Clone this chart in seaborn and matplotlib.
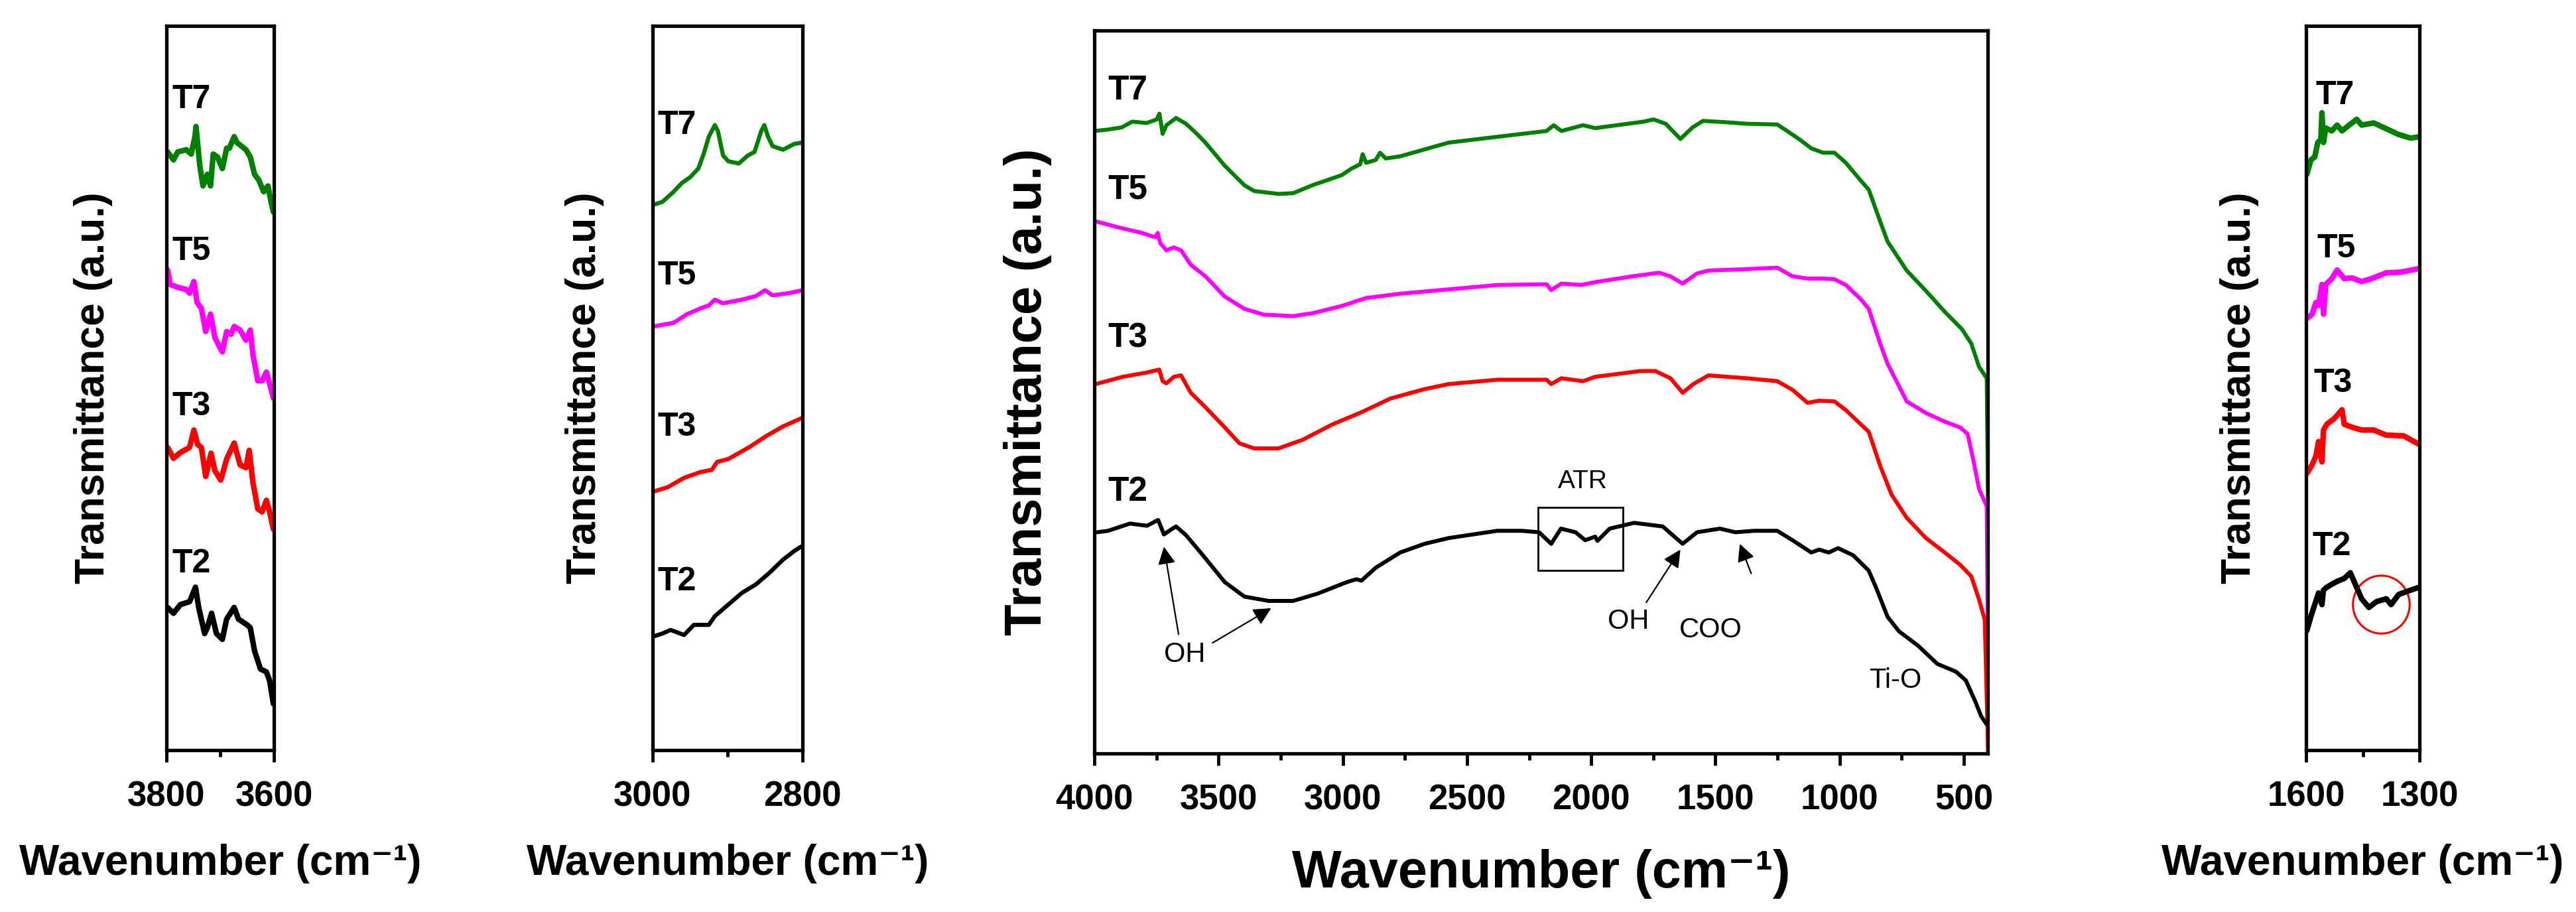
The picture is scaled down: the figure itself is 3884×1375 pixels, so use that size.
import matplotlib
matplotlib.use("Agg")
import matplotlib.pyplot as plt
import seaborn as sns
from matplotlib.patches import Rectangle, Ellipse

# ---- data (wavenumber, transmittance a.u. 0-100) ----
main_t7 = [(4000, 86.1), (3945, 86.3), (3890, 86.6), (3847, 87.4), (3790, 87.2), (3749, 87.7),
           (3738, 88.5), (3725, 85.7), (3710, 86.9), (3671, 87.9), (3631, 87.1), (3590, 85.8),
           (3553, 84.5), (3475, 81.3), (3396, 78.6), (3357, 77.8), (3259, 77.4), (3200, 77.5),
           (3122, 78.6), (3004, 80.0), (2965, 80.9), (2930, 81.5), (2920, 82.9), (2906, 81.7),
           (2867, 82.1), (2850, 83.1), (2827, 82.3), (2769, 82.6), (2573, 84.5), (2378, 85.3),
           (2180, 86.1), (2151, 86.9), (2120, 86.1), (2033, 86.9), (1984, 86.5), (1788, 87.4),
           (1749, 87.7), (1700, 87.1), (1641, 85.0), (1592, 86.6), (1550, 87.5), (1451, 87.3),
           (1374, 87.1), (1251, 87.0), (1220, 86.3), (1160, 84.9), (1114, 83.7), (1067, 83.1),
           (1021, 83.1), (975, 81.7), (914, 79.2), (883, 78.0), (837, 73.6), (807, 70.8),
           (730, 66.8), (653, 64.0), (577, 61.1), (508, 58.7), (470, 56.7), (439, 53.5),
           (408, 51.9), (402, 32.6)]
main_t5 = [(3994, 73.6), (3906, 72.8), (3808, 72.0), (3755, 71.4), (3745, 72.0), (3735, 70.6),
           (3710, 69.6), (3680, 70.0), (3651, 69.6), (3612, 67.6), (3553, 66.0), (3475, 63.2),
           (3396, 61.5), (3318, 60.7), (3200, 60.5), (3122, 60.9), (3004, 61.9), (2906, 63.0),
           (2769, 63.6), (2573, 64.2), (2378, 64.8), (2180, 64.9), (2161, 64.1), (2120, 65.0),
           (2041, 64.8), (1984, 65.2), (1834, 66.0), (1727, 66.5), (1681, 66.0), (1632, 65.0),
           (1574, 66.4), (1528, 66.8), (1374, 67.0), (1251, 67.2), (1190, 66.0), (1129, 65.7),
           (1067, 65.7), (1021, 65.6), (975, 64.8), (914, 62.8), (883, 61.5), (837, 56.7),
           (807, 53.9), (730, 48.7), (653, 47.1), (577, 45.9), (515, 45.1), (485, 44.2),
           (462, 40.6), (439, 36.6), (408, 34.2), (402, 10.5)]
main_t3 = [(3994, 51.1), (3886, 52.1), (3788, 52.7), (3739, 53.1), (3725, 51.5), (3710, 51.2),
           (3680, 52.1), (3651, 52.3), (3612, 49.9), (3553, 47.9), (3475, 45.1), (3416, 42.9),
           (3357, 42.2), (3259, 42.2), (3161, 43.4), (3043, 45.5), (2925, 47.2), (2808, 49.1),
           (2671, 50.4), (2573, 51.1), (2378, 51.7), (2180, 51.7), (2161, 51.1), (2120, 51.9),
           (2033, 51.5), (1984, 52.1), (1803, 52.9), (1742, 52.9), (1681, 51.9), (1632, 49.9),
           (1589, 51.1), (1528, 52.3), (1374, 51.9), (1251, 51.5), (1190, 50.3), (1129, 48.5),
           (1083, 48.8), (1021, 48.7), (975, 47.5), (914, 45.5), (883, 44.5), (837, 39.8),
           (791, 35.8), (730, 32.6), (653, 29.8), (577, 27.8), (515, 26.1), (470, 24.5),
           (439, 21.3), (416, 18.5), (402, -0.4)]
main_t2 = [(3988, 30.6), (3945, 30.8), (3857, 31.8), (3788, 31.5), (3743, 32.3), (3720, 30.3),
           (3690, 31.0), (3671, 31.4), (3631, 30.2), (3553, 27.0), (3475, 23.7), (3396, 21.7),
           (3298, 21.1), (3200, 21.1), (3102, 22.1), (2984, 23.7), (2945, 24.1), (2925, 23.9),
           (2867, 25.7), (2769, 27.8), (2671, 29.0), (2573, 29.8), (2378, 30.8), (2280, 30.8),
           (2210, 30.6), (2161, 29.0), (2122, 31.1), (2063, 30.6), (2024, 29.5), (1984, 30.0),
           (1975, 29.4), (1926, 31.1), (1827, 31.9), (1712, 31.4), (1632, 29.0), (1574, 30.6),
           (1482, 31.1), (1420, 30.6), (1344, 30.8), (1251, 30.8), (1190, 29.5), (1114, 27.8),
           (1083, 28.2), (1044, 27.8), (1006, 28.4), (945, 27.4), (883, 25.3), (853, 22.9),
           (807, 18.9), (761, 16.9), (684, 14.9), (607, 12.4), (531, 11.3), (492, 10.1),
           (454, 7.2), (431, 5.2), (408, 4.0)]

p1_t7 = [(3798, 82.6), (3787, 81.5), (3779, 82.6), (3763, 82.9), (3754, 82.3), (3747, 84.7),
         (3745, 86.1), (3738, 80.7), (3732, 77.9), (3724, 79.5), (3718, 77.9), (3713, 82.3),
         (3705, 81.9), (3696, 80.3), (3688, 83.1), (3683, 83.1), (3674, 84.7), (3669, 83.9),
         (3652, 82.9), (3644, 81.9), (3636, 79.5), (3628, 78.7), (3619, 77.1), (3611, 77.9),
         (3606, 75.9), (3601, 74.3)]
p1_t5 = [(3798, 66.3), (3793, 64.3), (3779, 63.9), (3763, 63.6), (3757, 63.1), (3749, 64.7),
         (3743, 61.8), (3735, 61.0), (3727, 57.8), (3718, 60.2), (3710, 57.0), (3702, 55.8),
         (3696, 55.0), (3688, 57.8), (3680, 57.4), (3674, 58.5), (3663, 58.0), (3652, 56.6),
         (3644, 58.0), (3639, 54.6), (3630, 51.0), (3622, 51.0), (3614, 52.2), (3608, 50.6),
         (3601, 48.6)]
p1_t3 = [(3798, 41.8), (3787, 40.3), (3774, 41.1), (3757, 41.8), (3749, 44.2), (3742, 42.2),
         (3735, 41.8), (3727, 37.8), (3717, 41.0), (3710, 38.6), (3699, 37.3), (3688, 40.2),
         (3674, 42.4), (3663, 39.4), (3652, 39.0), (3646, 41.4), (3639, 36.9), (3630, 33.3),
         (3622, 32.9), (3614, 34.5), (3608, 32.9), (3601, 30.5)]
p1_t2 = [(3798, 19.7), (3787, 18.9), (3774, 20.1), (3757, 20.5), (3746, 22.5), (3740, 19.7),
         (3729, 16.1), (3724, 16.9), (3716, 18.9), (3707, 16.1), (3696, 15.3), (3688, 18.1),
         (3674, 19.7), (3666, 18.1), (3650, 17.3), (3644, 16.9), (3636, 13.7), (3625, 11.2),
         (3614, 10.8), (3608, 9.6), (3601, 6.4)]

p2_t7 = [(2999, 75.3), (2987, 75.7), (2972, 77.1), (2961, 78.3), (2950, 79.1), (2939, 80.3),
         (2932, 82.3), (2925, 84.7), (2917, 86.3), (2913, 85.5), (2906, 82.1), (2899, 81.3),
         (2885, 81.0), (2873, 82.1), (2864, 82.6), (2855, 85.5), (2851, 86.3), (2846, 84.7),
         (2840, 83.4), (2826, 82.9), (2811, 83.7), (2800, 83.9)]
p2_t5 = [(2999, 58.5), (2972, 59.0), (2954, 60.2), (2936, 61.0), (2925, 61.4), (2917, 62.2),
         (2906, 61.7), (2881, 62.2), (2862, 62.7), (2850, 63.5), (2840, 62.8), (2818, 63.1),
         (2800, 63.5)]
p2_t3 = [(2999, 35.7), (2980, 36.3), (2958, 37.6), (2936, 38.4), (2921, 38.7), (2914, 39.8),
         (2899, 40.2), (2870, 41.9), (2848, 43.4), (2826, 44.7), (2800, 45.9)]
p2_t2 = [(2999, 15.7), (2987, 16.1), (2976, 16.6), (2958, 15.9), (2945, 17.3), (2925, 17.3),
         (2917, 18.5), (2899, 20.1), (2881, 21.7), (2862, 22.9), (2844, 24.5), (2826, 26.3),
         (2811, 27.5), (2802, 28.1)]

p4_t7 = [(1598, 79.5), (1587, 81.5), (1577, 81.9), (1569, 83.9), (1561, 84.3), (1558, 88.0),
         (1554, 83.9), (1548, 85.9), (1532, 85.5), (1518, 86.3), (1505, 85.5), (1486, 86.3),
         (1466, 87.1), (1453, 86.3), (1421, 86.6), (1388, 85.8), (1355, 85.0), (1323, 84.5),
         (1300, 84.7)]
p4_t5 = [(1598, 59.6), (1584, 60.2), (1574, 61.8), (1567, 61.4), (1558, 64.3), (1554, 60.2),
         (1548, 64.3), (1532, 65.1), (1518, 66.3), (1499, 65.1), (1479, 65.2), (1453, 64.7),
         (1427, 65.1), (1388, 65.9), (1349, 66.0), (1300, 66.5)]
p4_t3 = [(1598, 38.2), (1584, 39.4), (1574, 40.6), (1567, 42.6), (1558, 39.8), (1554, 44.2),
         (1545, 45.0), (1525, 45.8), (1505, 47.0), (1499, 45.0), (1479, 44.6), (1453, 44.2),
         (1421, 44.2), (1388, 43.5), (1342, 43.4), (1300, 42.2)]
p4_t2 = [(1598, 16.5), (1587, 18.5), (1577, 20.1), (1567, 21.7), (1558, 20.1), (1554, 22.1),
         (1545, 22.5), (1532, 22.9), (1518, 23.3), (1499, 23.7), (1483, 24.5), (1473, 23.3),
         (1453, 20.9), (1434, 19.7), (1414, 20.5), (1388, 20.9), (1375, 20.1), (1355, 21.5),
         (1323, 22.1), (1300, 22.5)]

samples = ["T7", "T5", "T3", "T2"]
colors = {"T7": "#008000", "T5": "#ff00ff", "T3": "#ff0000", "T2": "#000000"}

# label anchor points (left x, centre y) per panel
p1_lab = [(3790, 89.8), (3790, 68.9), (3790, 47.4), (3790, 25.7)]
p2_lab = [(2993, 86.3), (2993, 65.5), (2993, 44.6), (2993, 23.3)]
main_lab = [(3945, 91.7), (3945, 78.0), (3945, 57.4), (3945, 36.2)]
p4_lab = [(1574, 90.4), (1571, 69.2), (1580, 50.6), (1584, 28.1)]

sns.set_theme(style="ticks")
plt.rcParams["font.family"] = ["Liberation Sans", "DejaVu Sans"]
plt.rcParams["axes.linewidth"] = 3.8
plt.rcParams["text.color"] = "black"
plt.rcParams["axes.labelcolor"] = "black"
plt.rcParams["xtick.color"] = "black"
plt.rcParams["axes.edgecolor"] = "black"

W, H = 3884, 1375
fig = plt.figure(figsize=(W / 100, H / 100), dpi=100)


def px_axes(x0, y0, x1, y1):
    return fig.add_axes([x0 / W, (H - y1) / H, (x1 - x0) / W, (y1 - y0) / H])


def draw(ax, series, labels, lw, xlim, major, minor, tsize, lab_size, ylab_x, xlab_y, ylab_size):
    for name, pts in zip(samples, series):
        sns.lineplot(x=[p[0] for p in pts], y=[p[1] for p in pts], ax=ax, color=colors[name],
                     linewidth=lw, sort=False, estimator=None)
    for name, (lx, ly) in zip(samples, labels):
        ax.text(lx, ly, name, fontsize=tsize, fontweight="bold", ha="left", va="center",
                color="black")
    ax.set_xlim(*xlim)
    ax.set_ylim(0, 100)
    ax.set_yticks([])
    ax.set_xticks(major)
    ax.set_xticks(minor, minor=True)
    ax.tick_params(axis="x", which="major", direction="out", length=13, width=3.5, pad=20,
                   labelsize=38, colors="black")
    ax.tick_params(axis="x", which="minor", direction="out", length=7, width=3.5, colors="black")
    for lab in ax.get_xticklabels():
        lab.set_fontweight("bold")
    for s in ax.spines.values():
        s.set_visible(True)
        s.set_color("black")
    ax.set_xlabel("Wavenumber (cm⁻¹)", fontsize=lab_size, fontweight="bold", color="black")
    ax.set_ylabel("Transmittance (a.u.)", fontsize=ylab_size, fontweight="bold", color="black")
    ax.xaxis.set_label_coords(0.5, xlab_y)
    ax.yaxis.set_label_coords(ylab_x, 0.5)
    ax.set_facecolor("white")


ax1 = px_axes(251, 39, 413, 1131)
draw(ax1, [p1_t7, p1_t5, p1_t3, p1_t2], p1_lab, 6, (3800, 3600), [3800, 3600], [3700],
     36, 46, -0.5, -0.129, 45)

ax2 = px_axes(984, 39, 1210, 1131)
draw(ax2, [p2_t7, p2_t5, p2_t3, p2_t2], p2_lab, 4.5, (3000, 2800), [3000, 2800], [2900],
     36, 46, -0.323, -0.129, 45)

ax3 = px_axes(1650, 46, 2997, 1136)
draw(ax3, [main_t7, main_t5, main_t3, main_t2], main_lab, 4.3, (4000, 404),
     [4000, 3500, 3000, 2500, 2000, 1500, 1000, 500],
     [3750, 3250, 2750, 2250, 1750, 1250, 750], 37, 57, -0.0475, -0.132, 56)

ax4 = px_axes(3477, 39, 3648, 1131)
draw(ax4, [p4_t7, p4_t5, p4_t3, p4_t2], p4_lab, 6, (1600, 1300), [1600, 1300], [1450],
     36, 46, -0.415, -0.129, 45)

# annotations on the main panel
ax3.add_patch(Rectangle((2214, 25.3), -343, 8.7, fill=False, edgecolor="black", linewidth=2))
ax3.text(2033, 37.6, "ATR", fontsize=28, ha="center", va="center")
ax3.text(3637, 13.7, "OH", fontsize=30, ha="center", va="center")
ax3.text(1851, 18.3, "OH", fontsize=30, ha="center", va="center")
ax3.text(1520, 17.1, "COO", fontsize=30, ha="center", va="center")
ax3.text(776, 10.1, "Ti-O", fontsize=30, ha="center", va="center")
arrow = dict(arrowstyle="-|>", color="black", lw=1.6, mutation_scale=40, shrinkA=0, shrinkB=0)
for tail, head in [((3661, 16.5), (3720, 28.6)), ((3524, 15.3), (3288, 20.1)),
                   ((1778, 20.9), (1641, 28.2)), ((1356, 24.9), (1402, 29.0))]:
    ax3.annotate("", xy=head, xytext=tail, arrowprops=arrow)

# red circle on the right panel
ax4.add_patch(Ellipse((1401, 20.1), 150, 8.0, fill=False, edgecolor="red", linewidth=2.2))

fig.savefig("out.png", dpi=100, facecolor="white")
